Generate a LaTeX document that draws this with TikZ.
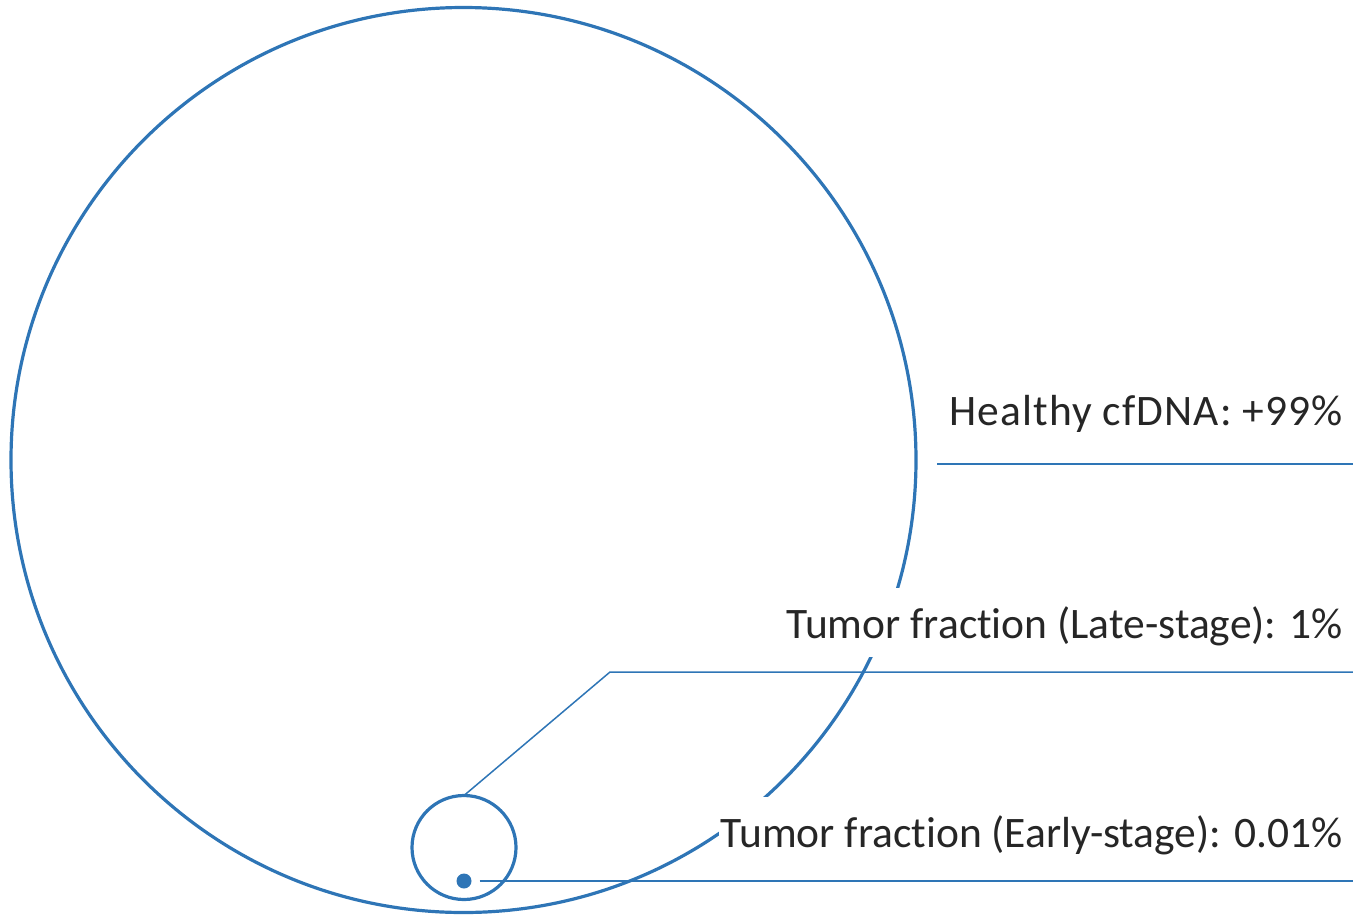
\documentclass[tikz,border=0pt]{standalone}
\usepackage{fontspec}
\setmainfont{Carlito}[Ligatures=NoCommon]
\newfontfamily\spacedfont{Carlito}[Ligatures=NoCommon,LetterSpace=2.5]
\definecolor{cblue}{RGB}{46,117,182}
\definecolor{ctext}{RGB}{38,38,38}
\begin{document}
\begin{tikzpicture}[x=1pt,y=-1pt,
  ring/.style={circle,draw=cblue,line width=3.2pt,inner sep=0pt,outer sep=0pt},
  lead/.style={draw=cblue,line width=1.5pt},
  lbl/.style={anchor=base east,text=ctext,font=\fontsize{43.5}{50}\selectfont,fill=white,inner ysep=0pt,inner xsep=2pt,text height=50pt,text depth=19pt}]
\useasboundingbox (0,0) rectangle (1353,914);
\node[ring,minimum size=905pt] (big) at (463.5,460) {};
\node[ring,minimum size=104pt] (small) at (464,847.5) {};
\node[circle,fill=cblue,inner sep=0pt,minimum size=15pt] (dot) at (464,881) {};
\node[lbl] (healthy) at (1345,425) {\spacedfont Healthy cfDNA: +99\%};
\node[lbl] (late) at (1345,638) {Tumor fraction (Late-stage): 1\%};
\node[lbl] (early) at (1345,847) {Tumor fraction (Early-stage): 0.01\%};
\coordinate (hs) at (937,464);
\coordinate (he) at (1353,464);
\coordinate (elbow) at (610,672);
\coordinate (le) at (1353,672);
\coordinate (ee) at (1353,881);
\draw[lead] (hs) -- (he);
\draw[lead] (small.north) -- (elbow) -- (le);
\draw[lead,shorten <=8pt] (dot.east) -- (ee);
\end{tikzpicture}
\end{document}
